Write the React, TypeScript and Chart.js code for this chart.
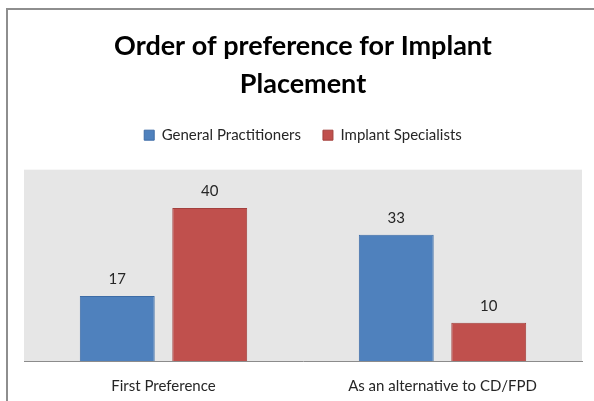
import React, { useEffect, useRef } from "react";
import { Chart, registerables } from "chart.js";

Chart.register(...registerables);

const categories = ["First Preference", "As an alternative to CD/FPD"];
const seriesNames = ["General Practitioners", "Implant Specialists"];
const generalPractitioners = [17, 33];
const implantSpecialists = [40, 10];
const titleLines = ["Order of preference for Implant", "Placement"];

const FONT = "Lato, 'Open Sans', sans-serif";

const framePlugin = {
  id: "frame",
  beforeInit(chart: any) {
    const legend = chart.legend;
    if (legend) {
      const orig = legend.fit;
      legend.fit = function () {
        orig.call(this);
        this.height += 17;
      };
    }
  },
  beforeDraw(chart: any) {
    const { ctx, chartArea } = chart;
    ctx.save();
    ctx.fillStyle = "#ffffff";
    ctx.fillRect(0, 0, chart.width, chart.height);
    ctx.fillStyle = "#e6e6e6";
    ctx.fillRect(chartArea.left, chartArea.top, chartArea.right - chartArea.left, chartArea.bottom - chartArea.top);
    ctx.strokeStyle = "#8e8e8e";
    ctx.lineWidth = 2;
    ctx.beginPath();
    ctx.moveTo(7, chart.height + 2);
    ctx.lineTo(7, 9);
    ctx.lineTo(chart.width + 2, 9);
    ctx.stroke();
    ctx.restore();
  },
};

const labelPlugin = {
  id: "valueLabels",
  afterDatasetsDraw(chart: any) {
    const { ctx } = chart;
    ctx.save();
    ctx.font = `15px ${FONT}`;
    ctx.fillStyle = "#262626";
    ctx.textAlign = "center";
    ctx.textBaseline = "middle";
    chart.data.datasets.forEach((ds: any, i: number) => {
      const meta = chart.getDatasetMeta(i);
      meta.data.forEach((bar: any, j: number) => {
        ctx.fillText(String(ds.data[j]), bar.x, bar.y - 17);
      });
    });
    ctx.restore();
  },
};

export default function App() {
  const ref = useRef<HTMLCanvasElement>(null);
  useEffect(() => {
    const chart = new Chart(ref.current!, {
      type: "bar",
      data: {
        labels: categories,
        datasets: [
          {
            label: seriesNames[0],
            data: generalPractitioners,
            backgroundColor: "#4f81bd",
            borderColor: "#3d6ca6",
            borderWidth: 1,
          },
          {
            label: seriesNames[1],
            data: implantSpecialists,
            backgroundColor: "#c0504d",
            borderColor: "#a3403d",
            borderWidth: 1,
          },
        ],
      },
      options: {
        animation: false,
        responsive: false,
        maintainAspectRatio: false,
        layout: { padding: { left: 24, right: 12, top: 10, bottom: 0 } },
        datasets: { bar: { categoryPercentage: 0.663, barPercentage: 0.81 } },
        plugins: {
          title: {
            display: true,
            text: titleLines,
            color: "#000000",
            font: { family: FONT, size: 27, weight: "bold", lineHeight: 1.42 },
            padding: { top: 17, bottom: 2 },
          },
          legend: {
            display: true,
            labels: {
              color: "#262626",
              font: { family: FONT, size: 15 },
              boxWidth: 10,
              boxHeight: 10,
              padding: 22,
            },
          },
          tooltip: { enabled: false },
        },
        scales: {
          x: {
            grid: { display: false },
            border: { display: true, color: "#8c8c8c", width: 1 },
            ticks: { color: "#262626", font: { family: FONT, size: 15 }, padding: 8 },
            afterFit: (scale: any) => {
              scale.height = 40;
            },
          },
          y: {
            display: false,
            min: 0,
            max: 50,
          },
        },
      },
      plugins: [framePlugin, labelPlugin],
    });
    return () => chart.destroy();
  }, []);
  return (
    <div style={{ position: "fixed", left: 0, top: 0, width: 594, height: 401 }}>
      <canvas ref={ref} width={594} height={401} style={{ width: 594, height: 401, display: "block" }} />
    </div>
  );
}
